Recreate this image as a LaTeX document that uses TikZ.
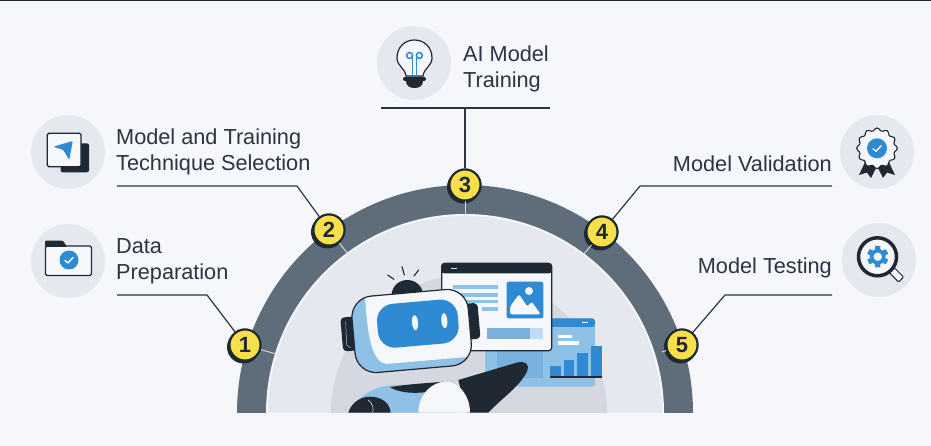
\documentclass[tikz,border=0pt]{standalone}
\usepackage{fontspec}
\setmainfont{Liberation Sans}
\usetikzlibrary{calc}
\definecolor{bgc}{HTML}{F5F7FB}
\definecolor{ink}{HTML}{1F2833}
\definecolor{txt}{HTML}{2B3440}
\definecolor{ring}{HTML}{5F6D7B}
\definecolor{pale}{HTML}{E6E8EF}
\definecolor{midg}{HTML}{D5D8E0}
\definecolor{blu}{HTML}{2E8BD3}
\definecolor{lblu}{HTML}{8FC0E6}
\definecolor{mblu}{HTML}{78B1DD}
\definecolor{yel}{HTML}{F8E04A}
\tikzset{
 x=1pt,y=-1pt,
 lead/.style={draw=txt,line width=1.2pt,line join=round},
 tick/.style={draw=midg,line width=1pt},
 iconbg/.style={circle,fill=pale,minimum size=74pt,inner sep=0},
 lab/.style={font=\fontsize{21.7}{26}\selectfont,text=txt,inner sep=0,align=left},
 labr/.style={font=\fontsize{21.7}{26}\selectfont,text=txt,inner sep=0,align=right},
 badge/.style={circle,fill=yel,draw=ink,line width=2pt,minimum size=31pt,inner sep=0,text=ink,font=\fontsize{22}{22}\selectfont\bfseries},
 badgesh/.style={circle,fill=ink,minimum size=33pt,inner sep=0},
 zoomz/.style={x=0.33333pt,y=-0.33333pt},
}
\begin{document}
\begin{tikzpicture}
\useasboundingbox (0,0) rectangle (931,446);
\fill[bgc] (0,0) rectangle (931,446);
\fill[ink] (0,0) rectangle (931,1.2);
% arch
\begin{scope}
\clip (200,100) rectangle (730,412);
\fill[ring] (465,413) circle[radius=228];
\fill[bgc] (465,413) circle[radius=199];
\fill[pale] (465,413) circle[radius=197];
\fill[midg] (469,413) circle[radius=138];
\end{scope}
% badges
\node[badgesh] at (243.5,347) {};
\node[badgesh] at (327.5,232) {};
\node[badgesh] at (463.5,187) {};
\node[badgesh] at (600.5,234) {};
\node[badgesh] at (680.5,347) {};
\node[badge] (b1) at (245,345) {};
\node[badge] (b2) at (329,230) {};
\node[badge] (b3) at (465,185) {};
\node[badge] (b4) at (602,232) {};
\node[badge] (b5) at (682,345) {};
% leaders
\coordinate (a1) at (117,295); \coordinate (c1) at (207,295);
\coordinate (a2) at (117,186); \coordinate (c2) at (297,186);
\coordinate (a3) at (381,108); \coordinate (c3) at (465,108); \coordinate (d3) at (550,108);
\coordinate (a4) at (832,186); \coordinate (c4) at (640,186);
\coordinate (a5) at (832,295); \coordinate (c5) at (725,295);
\draw[lead] (a1) -- (c1) -- (b1);
\draw[lead] (a2) -- (c2) -- (b2);
\draw[lead] (a3) -- (d3);
\draw[lead] (c3) -- (b3);
\draw[lead] (a4) -- (c4) -- (b4);
\draw[lead] (a5) -- (c5) -- (b5);
% inner ticks
\coordinate (t1) at (276,354); \coordinate (t2) at (348,254); \coordinate (t3) at (465,215);
\coordinate (t4) at (584,254); \coordinate (t5) at (662,352);
\draw[tick] (b1) -- (t1); \draw[tick] (b2) -- (t2); \draw[tick] (b3) -- (t3);
\draw[tick] (b4) -- (t4); \draw[tick] (b5) -- (t5);
\node[badge] at (b1) {1}; \node[badge] at (b2) {2}; \node[badge] at (b3) {3};
\node[badge] at (b4) {4}; \node[badge] at (b5) {5};
% labels
\node[lab,anchor=west] (l1) at (116,261.5) {Data\\Preparation};
\node[lab,anchor=west] (l2) at (116,152) {Model and Training\\Technique Selection};
\node[lab,anchor=west] (l3) at (463,69) {AI Model\\Training};
\node[labr,anchor=east] (l4) at (832,163.5) {Model Validation};
\node[labr,anchor=east] (l5) at (832,267.5) {Model Testing};
% icon circles
\node[iconbg] (i1) at (68,261) {};
\node[iconbg] (i2) at (68,152) {};
\node[iconbg] (i3) at (414,63) {};
\node[iconbg] (i4) at (877,152) {};
\node[iconbg] (i5) at (879,260) {};
% icon 2: plane
\fill[ink,rounded corners=2pt] (60.7,143.3) rectangle (89,172.3);
\draw[ink,fill=bgc,line width=1.3pt,rounded corners=1.5pt] (47.3,133.3) rectangle (81,166.7);
\fill[blu,rounded corners=1pt] (53.3,146.7) -- (72.7,141) -- (69.3,160) -- (63.3,150) -- cycle;
% icon 1: folder
\draw[ink,fill=bgc,line width=1.3pt,rounded corners=1.5pt] (45.5,246) rectangle (91.5,275.5);
\fill[ink,rounded corners=1pt] (45,247) -- (45,240.7) -- (63,240.7) -- (67,247) -- cycle;
\fill[blu] (69,260) circle[radius=9.5];
\draw[white,line width=1.4pt,line cap=round,line join=round] (65,260.5) -- (68,263) -- (73,257.5);
% icon 3: bulb
\draw[ink,fill=bgc,line width=1.2pt] (406,76) .. controls (405,68) and (397,66) .. (397,58) .. controls (397,47) and (405,40) .. (414.3,40) .. controls (424,40) and (432,47) .. (432,58) .. controls (432,66) and (424,68) .. (423,76) -- cycle;
\draw[blu,line width=1.5pt] (412.6,77) -- (412.6,55.5);
\draw[blu,line width=1.5pt] (416.4,77) -- (416.4,55.5);
\draw[blu,line width=1.5pt] (409.6,55.5) circle[radius=3];
\draw[blu,line width=1.5pt] (419.4,55.5) circle[radius=3];
\fill[ink,rounded corners=2pt] (403,77) rectangle (426,81);
\fill[ink] (406,81) -- (423,81) .. controls (423,86) and (419,88) .. (414.5,88) .. controls (410,88) and (406,86) .. (406,81) -- cycle;
% icon 4: seal
\fill[ink] (866,160) -- (859,175) -- (867,172.5) -- (871,178) -- (877,166) -- (883,178) -- (887,172.5) -- (895,175) -- (888,160) -- cycle;
\draw[ink,fill=bgc,line width=1.1pt] plot[smooth cycle,domain=0:354,samples=60] ({877+(19+1.4*cos(12*\x))*cos(\x)},{148.3+(19+1.4*cos(12*\x))*sin(\x)});
\fill[blu] (877,148.3) circle[radius=10];
\draw[white,line width=1.4pt,line cap=round,line join=round] (873,148.8) -- (876,151.3) -- (881,145.8);
% icon 5: magnifier
\draw[ink,fill=bgc,line width=1pt,rotate around={-45:(896.5,275)},rounded corners=1pt] (890,271.5) rectangle (903,278.5);
\draw[ink,fill=bgc,line width=3.5pt] (877.5,256.8) circle[radius=19];
\foreach \a in {0,60,...,300}{
 \fill[blu,rotate around={\a:(877.7,256.7)},rounded corners=0.6pt] (875,246) rectangle (880.4,251);
}
\draw[blu,line width=3.6pt] (877.7,256.7) circle[radius=6];
% robot (coordinates of the 3x crop)
\begin{scope}[shift={(320,250)},zoomz]
\clip (0,0) rectangle (900,488);
% back window
\fill[lblu,rounded corners=3pt] (495,205) rectangle (825,410);
\fill[blu,rounded corners=3pt] (690,205) rectangle (825,232);
\fill[lblu] (495,232) rectangle (825,260);
\fill[mblu] (530,300) rectangle (668,383);
\fill[white] (715,255) rectangle (755,265);
\fill[white] (715,273) rectangle (778,285);
\fill[blu] (690,347) rectangle (722,380);
\fill[blu] (732,330) rectangle (763,380);
\fill[blu] (772,310) rectangle (803,380);
\fill[blu] (812,288) rectangle (845,380);
\fill[ink] (690,378) rectangle (845,385);
\fill[white] (787,216) rectangle (805,220);
% front window
\draw[ink,fill=bgc,line width=1.2pt,rounded corners=3pt] (365,40) rectangle (695,302);
\fill[ink,rounded corners=3pt] (365,40) rectangle (695,70);
\fill[ink] (365,60) rectangle (695,70);
\fill[white!85!ink] (392,54) rectangle (410,58);
\foreach \ya/\yb/\xb/\xa in {105/118/533/400,128/140/533/400,150/160/533/400,172/183/533/487}{
 \fill[lblu] (\xa,\ya) rectangle (\xb,\yb);
}
\fill[blu,rounded corners=1.5pt] (560,95) rectangle (670,205);
\fill[bgc] (627,123) circle[radius=4pt];
\fill[bgc,rounded corners=2pt] (570,193) -- (570,170) -- (597,133) -- (622,170) -- (635,155) -- (662,193) -- cycle;
\fill[lblu!55!white] (500,233) rectangle (668,266);
\fill[mblu] (500,233) rectangle (630,266);
% body
\fill[lblu] (85,488) .. controls (120,430) and (170,405) .. (230,405) -- (400,405) -- (400,488) -- cycle;
\fill[ink] (210,412) .. controls (260,402) and (320,400) .. (370,395) -- (360,420) .. controls (310,430) and (250,435) .. (210,412) -- cycle;
\fill[ink] (415,390) -- (590,338) .. controls (615,330) and (630,345) .. (622,362) .. controls (600,410) and (550,440) .. (505,488) -- (440,488) -- cycle;
\fill[bgc] (295,488) .. controls (295,430) and (340,395) .. (375,395) .. controls (420,395) and (450,440) .. (450,488) -- cycle;
\fill[ink] (85,488) .. controls (95,455) and (125,440) .. (150,440) .. controls (185,440) and (210,460) .. (212,488) -- cycle;
\draw[bgc,line width=0.5pt] (145,450) .. controls (158,460) and (162,475) .. (158,488);
% antenna
\fill[ink] (262,135) ellipse[x radius=15.7pt,y radius=15pt];
\draw[ink,line width=1.1pt,line cap=round] (203,75) -- (222,88);
\draw[ink,line width=1.1pt,line cap=round] (246,50) -- (253,75);
\draw[ink,line width=1.1pt,line cap=round] (296,60) -- (282,78);
% ears
\fill[ink,rounded corners=4pt,rotate around={5:(98,250)}] (65,200) rectangle (131,302);
\draw[bgc!70!ink,line width=0.5pt] (77,215) -- (80,285) -- (92,293);
\fill[ink,rounded corners=4pt,rotate around={5:(455,214)}] (430,160) rectangle (477,268);
% head
\begin{scope}[rotate around={5:(275,243)}]
\begin{scope}
\clip[rounded corners=21pt] (100,128) rectangle (450,358);
\fill[lblu] (100,128) rectangle (450,358);
\fill[bgc] (145,120) -- (460,120) -- (460,335) -- (190,335) .. controls (150,325) and (140,250) .. (145,120) -- cycle;
\end{scope}
\draw[ink,line width=1.2pt,rounded corners=21pt] (100,128) rectangle (450,358);
\end{scope}
\fill[blu,rounded corners=17pt,rotate around={5:(293,221)}] (172,155) rectangle (415,287);
\fill[bgc,rotate around={5:(285,218)}] (285,218) ellipse[x radius=3pt,y radius=7.5pt];
\fill[bgc,rotate around={5:(373,212)}] (373,212) ellipse[x radius=3pt,y radius=7.5pt];
\end{scope}
\end{tikzpicture}
\end{document}
